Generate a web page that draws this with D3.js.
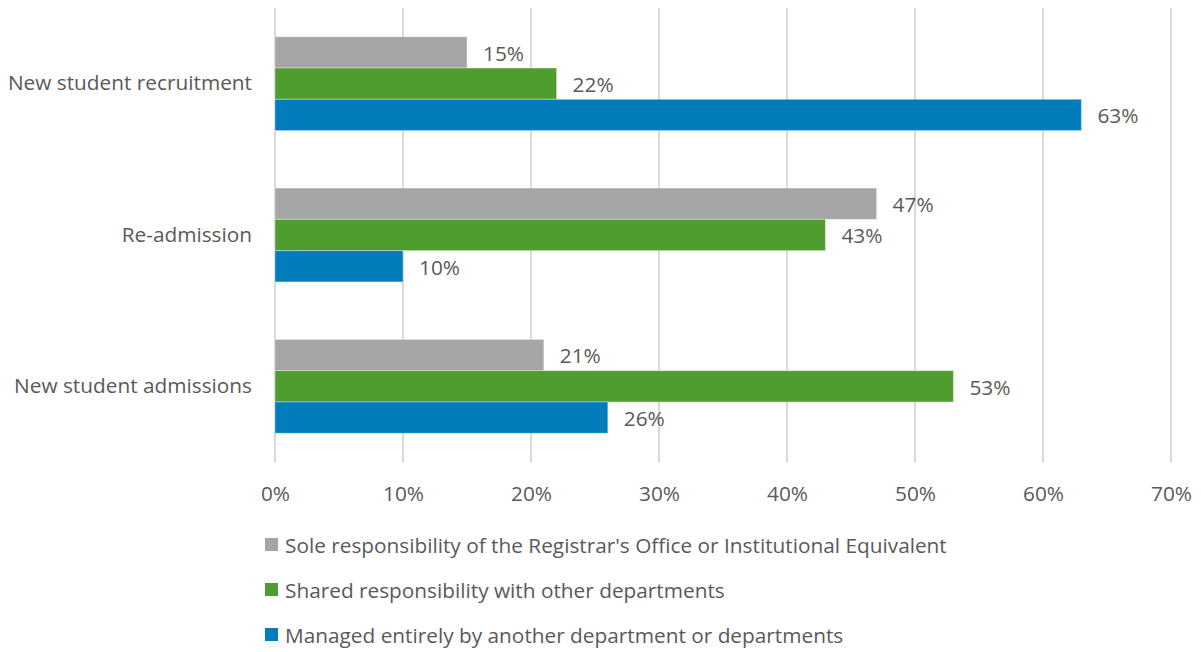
<!DOCTYPE html>
<html>
<head>
<meta charset="utf-8">
<script src="https://cdn.jsdelivr.net/npm/d3@7"></script>
<style>
  html, body { margin: 0; padding: 0; background: #fff; }
  svg { display: block; }
  text { font-family: "Open Sans", "Noto Sans", sans-serif; fill: #595959; }
</style>
</head>
<body>
<svg id="chart" width="1201" height="652"></svg>
<script>
// Responsibility for enrollment functions, share of institutions
const categories = ["New student recruitment", "Re-admission", "New student admissions"];
const seriesNames = [
  "Sole responsibility of the Registrar's Office or Institutional Equivalent",
  "Shared responsibility with other departments",
  "Managed entirely by another department or departments"
];
const soleValues = [15, 47, 21];
const sharedValues = [22, 43, 53];
const otherValues = [63, 10, 26];
const tickValues = [0, 10, 20, 30, 40, 50, 60, 70];
const colors = ["#a5a5a5", "#4f9d2f", "#007dba"];

const seriesValues = [soleValues, sharedValues, otherValues];
const fontSize = "20.8px";

const svg = d3.select("#chart");
const plot = { left: 275, right: 1171, top: 8, bottom: 462 };

const x = d3.scaleLinear().domain([0, 70]).range([plot.left, plot.right]);
const y = d3.scaleBand().domain(categories).range([plot.top, plot.bottom]).paddingInner(0.38).paddingOuter(0.19);
const ySub = d3.scaleBand().domain(d3.range(seriesNames.length)).range([0, y.bandwidth()]);

// vertical gridlines
svg.append("g")
  .selectAll("line")
  .data(tickValues)
  .join("line")
  .attr("x1", d => x(d)).attr("x2", d => x(d))
  .attr("y1", plot.top).attr("y2", plot.bottom)
  .attr("stroke", "#d9d9d9").attr("stroke-width", 2);

// x axis tick labels
const xAxis = d3.axisBottom(x).tickValues(tickValues).tickFormat(d => d + "%").tickSize(0).tickPadding(0);
const gx = svg.append("g").attr("transform", `translate(0,${plot.bottom})`).call(xAxis);
gx.select(".domain").remove();
gx.selectAll("text")
  .attr("y", 39).attr("dy", 0)
  .style("font-size", fontSize).attr("fill", "#595959");

// category labels
const yAxis = d3.axisLeft(y).tickSize(0).tickPadding(23);
const gy = svg.append("g").attr("transform", `translate(${plot.left},0)`).call(yAxis);
gy.select(".domain").remove();
gy.selectAll("text").style("font-size", fontSize).attr("fill", "#595959");

// bars and value labels
const rows = [];
categories.forEach((c, ci) => {
  seriesValues.forEach((vals, si) => rows.push({ cat: c, s: si, v: vals[ci] }));
});

const bars = svg.append("g");
bars.selectAll("rect")
  .data(rows)
  .join("rect")
  .attr("x", x(0))
  .attr("y", d => y(d.cat) + ySub(d.s))
  .attr("width", d => x(d.v) - x(0))
  .attr("height", ySub.bandwidth())
  .attr("fill", d => colors[d.s])
  .attr("stroke", "#ffffff").attr("stroke-opacity", 0.35).attr("stroke-width", 1);

bars.selectAll("text")
  .data(rows)
  .join("text")
  .attr("x", d => x(d.v) + 16)
  .attr("y", d => y(d.cat) + ySub(d.s) + ySub.bandwidth() / 2 + 1)
  .attr("dy", "0.35em")
  .style("font-size", fontSize)
  .text(d => d.v + "%");

// legend
const legend = svg.append("g")
  .selectAll("g")
  .data(seriesNames)
  .join("g")
  .attr("transform", (d, i) => `translate(265,${545 + i * 45})`);
legend.append("rect")
  .attr("x", 0).attr("y", -7).attr("width", 13).attr("height", 13)
  .attr("fill", (d, i) => colors[i]);
legend.append("text")
  .attr("x", 20).attr("y", 1).attr("dy", "0.35em")
  .style("font-size", fontSize)
  .text(d => d);
</script>
</body>
</html>
